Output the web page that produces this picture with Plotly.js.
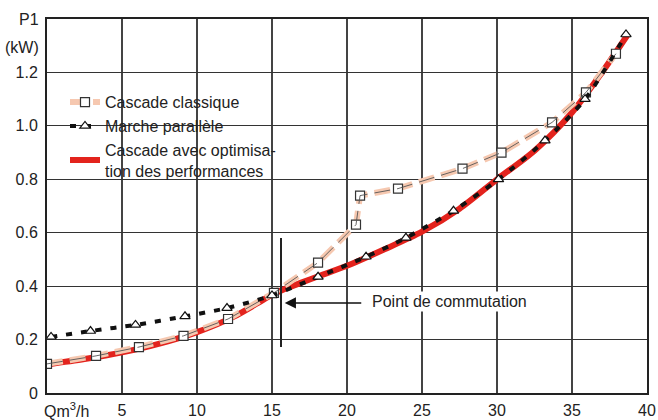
<!DOCTYPE html>
<html><head><meta charset="utf-8">
<script src="https://cdn.plot.ly/plotly-3.0.1.min.js"></script>
<style>html,body{margin:0;padding:0;background:#fff}</style>
</head><body>
<div id="chart" style="width:658px;height:420px"></div>
<script>
// Cascade classique (squares)
const classX = [0, 3.27, 6.13, 9.1, 12.07, 15.13, 18.07, 20.6, 20.87, 23.4, 27.7, 30.3, 33.67, 35.93, 37.93];
const classY = [0.109, 0.139, 0.172, 0.214, 0.277, 0.375, 0.488, 0.63, 0.739, 0.765, 0.84, 0.90, 1.013, 1.125, 1.27];
// Marche parallèle (triangles)
const paraX = [0.27, 2.9, 5.9, 9.2, 12.0, 15.0, 18.07, 21.27, 23.93, 27.1, 30.1, 33.2, 35.87, 38.6];
const paraY = [0.21, 0.232, 0.255, 0.287, 0.318, 0.365, 0.435, 0.51, 0.581, 0.682, 0.80, 0.945, 1.10, 1.342];
// Cascade avec optimisation des performances
const optX = [0, 2.5, 5, 7.5, 10, 12.5, 14, 15, 15.7, 17, 18, 20, 22.5, 25, 27.5, 30, 32.5, 35, 37, 38.7];
const optY = [0.107, 0.127, 0.152, 0.185, 0.228, 0.287, 0.335, 0.368, 0.386, 0.414, 0.435, 0.476, 0.538, 0.604, 0.69, 0.80, 0.907, 1.05, 1.20, 1.34];

const xTicks = [5, 10, 15, 20, 25, 30, 35, 40];
const yTicks = [0, 0.2, 0.4, 0.6, 0.8, 1.0, 1.2];
const yTickText = ["0", "0.2", "0.4", "0.6", "0.8", "1.0", "1.2"];

const FONT = "Liberation Sans, Arial, sans-serif";

const traces = [
  {x: optX, y: optY, mode: 'lines', name: 'Cascade avec optimisa-<br>tion des performances',
   line: {color: '#e3231d', width: 6, shape: 'spline', smoothing: 0.8}, legendrank: 3},
  {x: classX, y: classY, mode: 'lines+markers', name: 'Cascade classique',
   line: {color: '#f6c8b0', width: 6, dash: '16px,7px'},
   marker: {symbol: 'square', size: 9, color: '#fff', line: {color: '#333', width: 1.2}}, legendrank: 1},
  {x: classX, y: classY, mode: 'lines', showlegend: false, hoverinfo: 'skip',
   line: {color: '#555', width: 0.9, dash: '16px,7px'}},
  {x: paraX, y: paraY, mode: 'lines+markers', name: 'Marche parallèle',
   line: {color: '#111', width: 4, dash: '6px,9px', shape: 'spline', smoothing: 0.8},
   marker: {symbol: 'triangle-up', size: 9, color: '#fff', line: {color: '#111', width: 1.2}}, legendrank: 2}
];

const layout = {
  width: 658, height: 420,
  margin: {l: 47, r: 11, t: 19, b: 27},
  paper_bgcolor: '#fff', plot_bgcolor: '#fff',
  font: {family: FONT, size: 16, color: '#222'},
  showlegend: true,
  legend: {x: 0.03, y: 0.823, xanchor: 'left', yanchor: 'top', bgcolor: 'rgba(0,0,0,0)',
           font: {family: FONT, size: 16, color: '#222'}, tracegroupgap: 0},
  xaxis: {range: [0, 40], tickvals: xTicks, ticktext: xTicks.map(String),
          showgrid: true, gridcolor: '#444', gridwidth: 1.2, zeroline: false,
          showline: true, linecolor: '#222', linewidth: 2, mirror: true,
          ticks: 'outside', ticklen: 2, tickcolor: 'rgba(0,0,0,0)',
          tickfont: {family: FONT, size: 16, color: '#222'}},
  yaxis: {range: [0, 1.4], tickvals: yTicks, ticktext: yTickText,
          showgrid: true, gridcolor: '#333', gridwidth: 1.2, zeroline: false,
          showline: true, linecolor: '#222', linewidth: 2, mirror: true,
          ticks: 'outside', ticklen: 4, tickcolor: 'rgba(0,0,0,0)',
          tickfont: {family: FONT, size: 16, color: '#222'}},
  shapes: [
    {type: 'rect', xref: 'paper', yref: 'paper', x0: 0.093, x1: 0.392, y0: 0.548, y1: 0.80,
     fillcolor: '#fff', line: {width: 0}, layer: 'between'},
    {type: 'line', xref: 'x', yref: 'y', x0: 15.6, x1: 15.6, y0: 0.172, y1: 0.58,
     line: {color: '#222', width: 2}}
  ],
  annotations: [
    {x: 15.85, y: 0.337, ax: 21.05, ay: 0.337, axref: 'x', ayref: 'y', xref: 'x', yref: 'y',
     text: '', showarrow: true, arrowhead: 2, arrowsize: 1.4, arrowwidth: 1.6, arrowcolor: '#111'},
    {x: 21.5, y: 0.343, xref: 'x', yref: 'y', text: 'Point de commutation', showarrow: false,
     xanchor: 'left', yanchor: 'middle', bgcolor: '#fff', font: {family: FONT, size: 16, color: '#222'}},
    {x: -0.01, y: 1.0, xref: 'paper', yref: 'paper', text: 'P1', showarrow: false,
     xanchor: 'right', yanchor: 'middle', font: {family: FONT, size: 16, color: '#222'}},
    {x: -0.01, y: 0.924, xref: 'paper', yref: 'paper', text: '(kW)', showarrow: false,
     xanchor: 'right', yanchor: 'middle', font: {family: FONT, size: 16, color: '#222'}},
    {x: -0.008, y: -0.045, xref: 'paper', yref: 'paper', text: 'Qm<sup>3</sup>/h', showarrow: false,
     xanchor: 'left', yanchor: 'middle', font: {family: FONT, size: 16, color: '#222'}}
  ]
};

Plotly.newPlot('chart', traces, layout, {displayModeBar: false, staticPlot: true});
</script>
</body></html>
